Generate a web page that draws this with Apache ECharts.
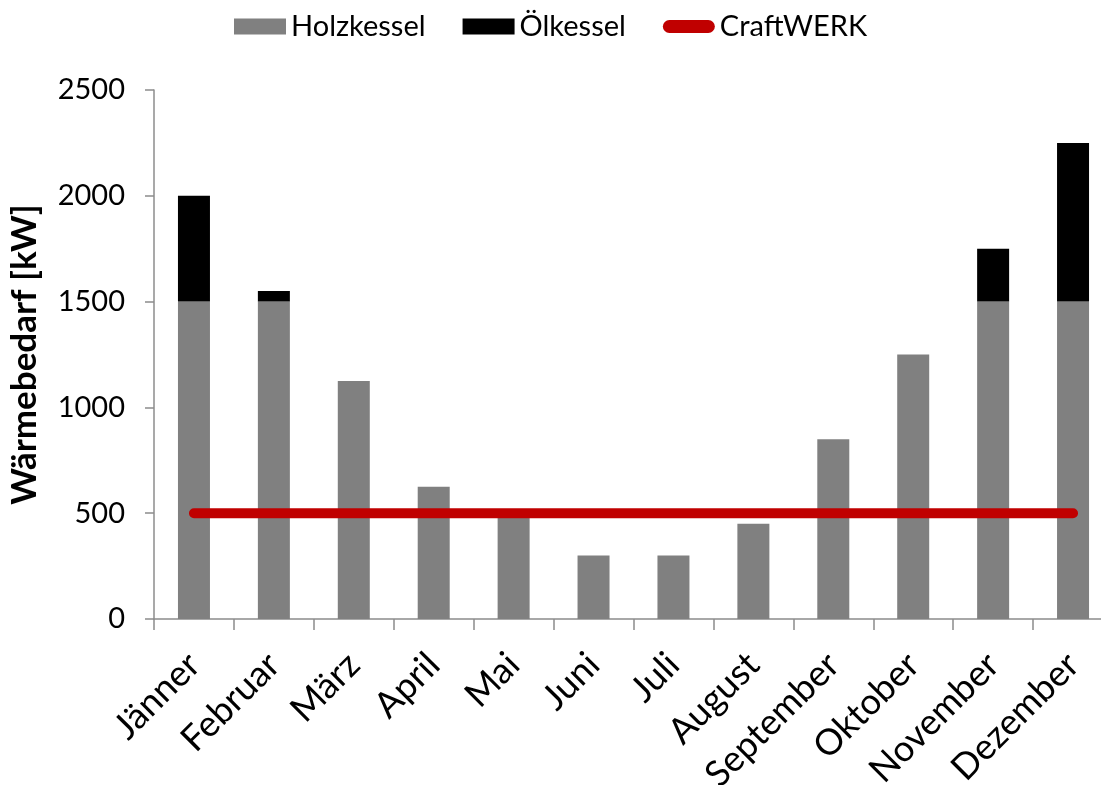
<!DOCTYPE html>
<html>
<head>
<meta charset="utf-8">
<script src="https://cdn.jsdelivr.net/npm/echarts@6/dist/echarts.min.js"></script>
<style>
  html, body { margin: 0; padding: 0; background: #fff; }
  #chart { width: 1101px; height: 785px; }
</style>
</head>
<body>
<div id="chart"></div>
<script>
// Monatlicher Wärmebedarf: Holzkessel + Ölkessel (gestapelt), CraftWERK-Leistung als Linie
const months = ['Jänner', 'Februar', 'März', 'April', 'Mai', 'Juni', 'Juli',
                'August', 'September', 'Oktober', 'November', 'Dezember'];
const holzkessel = [1500, 1500, 1125, 625, 500, 300, 300, 450, 850, 1250, 1500, 1500];
const oelkessel  = [500, 50, 0, 0, 0, 0, 0, 0, 0, 0, 250, 750];
const craftwerk  = [500, 500, 500, 500, 500, 500, 500, 500, 500, 500, 500, 500];
const yTicks = [0, 500, 1000, 1500, 2000, 2500];

const FONT = 'Lato';
const axisGray = '#8c8c8c';
// pill-shaped legend key for the line series
const pillIcon = 'path://M6.5,0 H45.5 A6.5,6.5 0 0 1 45.5,13 H6.5 A6.5,6.5 0 0 1 6.5,0 Z';

const chart = echarts.init(document.getElementById('chart'), null, { renderer: 'canvas' });

chart.setOption({
  animation: false,
  backgroundColor: '#ffffff',
  textStyle: { fontFamily: FONT, color: '#000' },
  legend: {
    top: 7,
    left: 229,
    itemWidth: 52,
    itemHeight: 16,
    itemGap: 37,
    symbolKeepAspect: true,
    textStyle: { fontFamily: FONT, fontSize: 29, color: '#000' },
    data: [
      { name: 'Holzkessel', icon: 'rect' },
      { name: 'Ölkessel', icon: 'rect' },
      { name: 'CraftWERK', icon: pillIcon, itemStyle: { color: '#c00000' } }
    ]
  },
  grid: {
    left: 154,
    top: 90,
    width: 959,
    height: 529,
    containLabel: false,
    outerBoundsMode: 'none'
  },
  xAxis: {
    type: 'category',
    data: months,
    boundaryGap: true,
    axisLine: { lineStyle: { color: axisGray, width: 1.5 } },
    axisTick: { show: true, length: 11, alignWithLabel: false, lineStyle: { color: axisGray, width: 1.5 } },
    axisLabel: {
      rotate: 45,
      margin: 40,
      interval: 0,
      fontFamily: FONT,
      fontSize: 36,
      color: '#000'
    },
    splitLine: { show: false }
  },
  yAxis: {
    type: 'value',
    min: yTicks[0],
    max: yTicks[yTicks.length - 1],
    interval: yTicks[1] - yTicks[0],
    name: 'Wärmebedarf [kW]',
    nameLocation: 'middle',
    nameGap: 112,
    nameRotate: 90,
    nameTextStyle: { fontFamily: FONT, fontSize: 35, fontWeight: 'bold', color: '#000' },
    axisLine: { show: true, lineStyle: { color: axisGray, width: 1.5 } },
    axisTick: { show: true, length: 9, lineStyle: { color: axisGray, width: 1.5 } },
    axisLabel: {
      margin: 29,
      fontFamily: FONT,
      fontSize: 29,
      color: '#000',
      formatter: (v) => String(v)
    },
    splitLine: { show: false }
  },
  series: [
    {
      name: 'Holzkessel',
      type: 'bar',
      stack: 'waerme',
      data: holzkessel,
      barWidth: 32,
      itemStyle: { color: '#808080' }
    },
    {
      name: 'Ölkessel',
      type: 'bar',
      stack: 'waerme',
      data: oelkessel,
      barWidth: 32,
      itemStyle: { color: '#000000' }
    },
    {
      name: 'CraftWERK',
      type: 'line',
      data: craftwerk,
      symbol: 'none',
      z: 5,
      lineStyle: { color: '#c00000', width: 10, cap: 'round' },
      itemStyle: { color: '#c00000' }
    }
  ]
});
</script>
</body>
</html>
